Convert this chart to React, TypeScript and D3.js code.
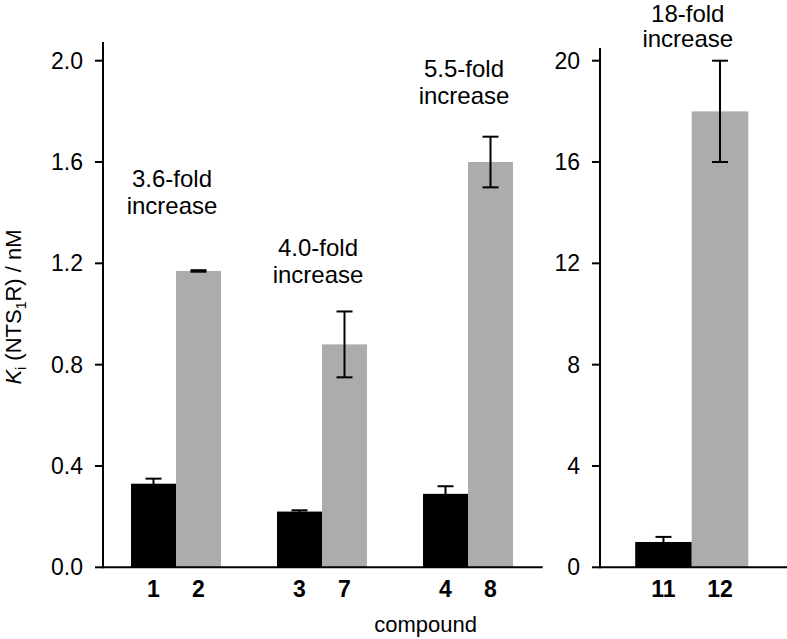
import React from "react";
import * as d3 from "d3";

const leftGroups = ["1-2", "3-7", "4-8"];
const leftParent = ["1", "3", "4"];
const leftChild = ["2", "7", "8"];
const leftParentKi = [0.33, 0.22, 0.29];
const leftParentErr = [0.02, 0.005, 0.03];
const leftChildKi = [1.17, 0.88, 1.6];
const leftChildErr = [0.003, 0.13, 0.1];
const leftTicks = [0, 0.4, 0.8, 1.2, 1.6, 2.0];

const rightGroups = ["11-12"];
const rightParent = ["11"];
const rightChild = ["12"];
const rightParentKi = [1.0];
const rightParentErr = [0.2];
const rightChildKi = [18];
const rightChildErr = [2];
const rightTicks = [0, 4, 8, 12, 16, 20];

const leftNotes = ["3.6-fold", "4.0-fold", "5.5-fold"];
const leftNoteY = [1.5, 1.23, 1.935];
const rightNotes = ["18-fold"];
const rightNoteY = [21.52];

const W = 787;
const H = 639;
const FONT = "'Liberation Sans', Arial, Helvetica, sans-serif";
const BLACK = "#000000";
const GRAY = "#acacac";

type PanelProps = {
  groups: string[];
  parent: string[];
  child: string[];
  pv: number[];
  pe: number[];
  cv: number[];
  ce: number[];
  ticks: number[];
  fmt: (v: number) => string;
  yMax: number;
  x0: number;
  x1: number;
  axisTop: number;
  notes: string[];
  noteY: number[];
  noteGap: number;
  xAxisEnd: number;
};

function Panel(p: PanelProps) {
  const y = d3.scaleLinear().domain([0, p.yMax]).range([567.3, 60.7]);
  const pi = 0.3836;
  const x = d3
    .scaleBand<string>()
    .domain(p.groups)
    .range([p.x0, p.x1])
    .paddingInner(pi)
    .paddingOuter(pi / 2);
  const bw = x.bandwidth() / 2;
  const cap = 8;
  const bars: React.ReactNode[] = [];
  p.groups.forEach((g, i) => {
    const gx = x(g) as number;
    const items = [
      { v: p.pv[i], e: p.pe[i], c: BLACK, xs: gx, lab: p.parent[i] },
      { v: p.cv[i], e: p.ce[i], c: GRAY, xs: gx + bw, lab: p.child[i] },
    ];
    items.forEach((it, j) => {
      const cx = it.xs + bw / 2;
      bars.push(
        <rect key={`b${i}${j}`} x={it.xs} y={y(it.v)} width={bw} height={y(0) - y(it.v)} fill={it.c} />
      );
      bars.push(
        <g key={`e${i}${j}`} stroke="#000" strokeWidth={2}>
          <line x1={cx} x2={cx} y1={y(it.v + it.e)} y2={y(it.v - it.e)} />
          <line x1={cx - cap} x2={cx + cap} y1={y(it.v + it.e)} y2={y(it.v + it.e)} />
          <line x1={cx - cap} x2={cx + cap} y1={y(it.v - it.e)} y2={y(it.v - it.e)} />
        </g>
      );
      bars.push(
        <text
          key={`l${i}${j}`}
          x={cx}
          y={597}
          textAnchor="middle"
          fontWeight="bold"
          fontSize={23}
          fontFamily={FONT}
        >
          {it.lab}
        </text>
      );
    });
    const nx = gx + bw - 4;
    const ny = y(p.noteY[i]);
    bars.push(
      <text key={`n${i}`} x={nx} y={ny} textAnchor="middle" fontSize={24} fontFamily={FONT}>
        <tspan x={nx} dy={0}>{p.notes[i]}</tspan>
        <tspan x={nx} dy={p.noteGap}>increase</tspan>
      </text>
    );
  });
  return (
    <g>
      {bars}
      <line x1={p.x0} x2={p.x0} y1={p.axisTop} y2={y(0) + 1} stroke="#000" strokeWidth={2} />
      <line x1={p.x0} x2={p.xAxisEnd} y1={y(0)} y2={y(0)} stroke="#000" strokeWidth={2} />
      {p.ticks.map((t) => (
        <g key={t}>
          <line x1={p.x0 - 8} x2={p.x0} y1={y(t)} y2={y(t)} stroke="#000" strokeWidth={2} />
          <text
            x={p.x0 - 20}
            y={y(t)}
            dy="0.35em"
            textAnchor="end"
            fontSize={23}
            fontFamily={FONT}
          >
            {p.fmt(t)}
          </text>
        </g>
      ))}
    </g>
  );
}

export default function App() {
  return (
    <svg
      width={W}
      height={H}
      style={{ position: "absolute", left: 0, top: 0, background: "#fff" }}
    >
      <rect width={W} height={H} fill="#fff" />
      <Panel
        groups={leftGroups}
        parent={leftParent}
        child={leftChild}
        pv={leftParentKi}
        pe={leftParentErr}
        cv={leftChildKi}
        ce={leftChildErr}
        ticks={leftTicks}
        fmt={d3.format(".1f")}
        yMax={2}
        x0={103}
        x1={541}
        axisTop={42}
        notes={leftNotes}
        noteY={leftNoteY}
        noteGap={27}
        xAxisEnd={542.7}
      />
      <Panel
        groups={rightGroups}
        parent={rightParent}
        child={rightChild}
        pv={rightParentKi}
        pe={rightParentErr}
        cv={rightChildKi}
        ce={rightChildErr}
        ticks={rightTicks}
        fmt={d3.format("d")}
        yMax={20}
        x0={600}
        x1={783.5}
        axisTop={48}
        notes={rightNotes}
        noteY={rightNoteY}
        noteGap={25}
        xAxisEnd={787}
      />
      <text
        transform="translate(21,307) rotate(-90)"
        textAnchor="middle"
        fontSize={22}
        fontFamily={FONT}
      >
        <tspan fontStyle="italic">K</tspan>
        <tspan fontSize={14} dy={5}>i</tspan>
        <tspan dy={-5}> (NTS</tspan>
        <tspan fontSize={14} dy={5}>1</tspan>
        <tspan dy={-5}>R) / nM</tspan>
      </text>
      <text x={425.7} y={632} textAnchor="middle" fontSize={22} fontFamily={FONT}>
        compound
      </text>
    </svg>
  );
}
